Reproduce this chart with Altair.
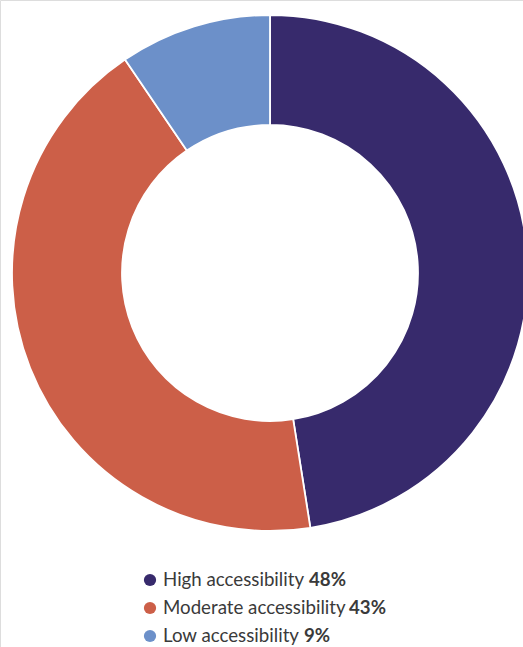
import altair as alt
import pandas as pd

categories = ["High accessibility", "Moderate accessibility", "Low accessibility"]
# slice sizes (labels show rounded values)
values = [47.5, 43, 9.5]
pct_labels = ["48%", "43%", "9%"]
colors = ["#372a6c", "#cc5f48", "#6c90c9"]

df = pd.DataFrame({
    "category": categories,
    "value": values,
    "pct": pct_labels,
    "order": [0, 1, 2],
    "row": [0, 1, 2],
})

color_scale = alt.Scale(domain=categories, range=colors)
FONT = "Lato"
FS = 18.7

base = alt.Chart(df)

donut = base.mark_arc(radius=258, radius2=148, stroke="white", strokeWidth=1.8).encode(
    theta=alt.Theta("value:Q", stack=True),
    order=alt.Order("order:Q"),
    color=alt.Color("category:N", scale=color_scale, legend=None),
    x=alt.value(270),
    y=alt.value(273),
)

row_y = alt.Y("row:Q", scale=alt.Scale(domain=[0, 2], range=[580, 636]), axis=None)

dots = base.mark_point(filled=True, size=150, opacity=1).encode(
    x=alt.value(150),
    y=row_y,
    color=alt.Color("category:N", scale=color_scale, legend=None),
    shape=alt.value("circle"),
)

labels = base.mark_text(align="left", baseline="middle", font=FONT, fontSize=FS,
                        color="#3a3a3a").encode(
    x=alt.value(163),
    y=row_y,
    text="category:N",
)

bold_dx = [146, 186, 141]
bold_layers = []
for i, cat in enumerate(categories):
    bold_layers.append(
        base.transform_filter(alt.datum.category == cat).mark_text(
            align="left", baseline="middle", font=FONT, fontSize=FS,
            fontWeight="bold", color="#3a3a3a", dx=bold_dx[i]
        ).encode(x=alt.value(163), y=row_y, text="pct:N")
    )

chart = alt.layer(donut, dots, labels, *bold_layers).properties(
    width=523, height=647, padding=0, autosize=alt.AutoSizeParams(type="none")
).configure_view(stroke=None).configure(background="white")

chart.save("out.html", embed_options={"renderer": "svg", "actions": False})
